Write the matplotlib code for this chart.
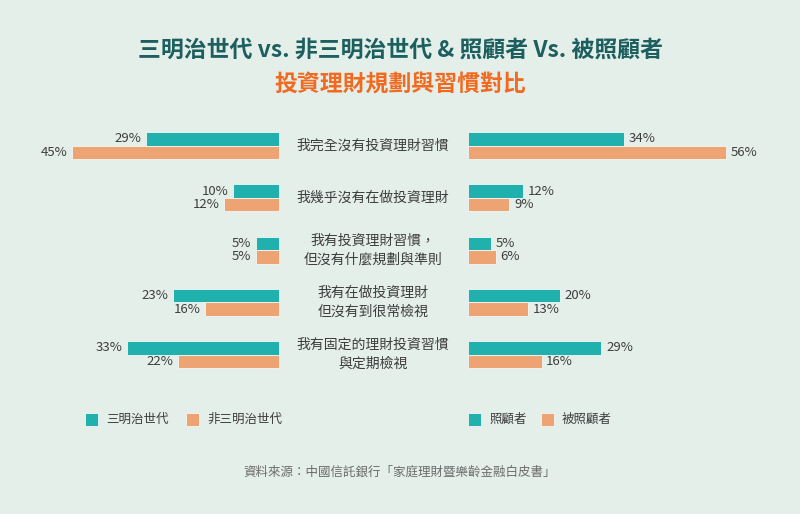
import matplotlib
matplotlib.use('Agg')
import matplotlib.pyplot as plt
from matplotlib.patches import Rectangle

plt.rcParams['font.family'] = ['Noto Sans CJK TC', 'DejaVu Sans']

# data
categories = ['我完全沒有投資理財習慣',
              '我幾乎沒有在做投資理財',
              '我有投資理財習慣，\n但沒有什麼規劃與準則',
              '我有在做投資理財\n但沒有到很常檢視',
              '我有固定的理財投資習慣\n與定期檢視']
sandwich = [29, 10, 5, 23, 33]
non_sandwich = [45, 12, 5, 16, 22]
caregiver = [34, 12, 5, 20, 29]
cared_for = [56, 9, 6, 13, 16]

teal = '#20b0ad'
orange = '#eea373'
bg = '#e4efea'
label_col = '#3d3d3d'

W, H = 800, 514
fig = plt.figure(figsize=(W / 100, H / 100), dpi=100, facecolor=bg)

# full-figure axes in pixel coordinates for text
ax = fig.add_axes([0, 0, 1, 1])
ax.set_xlim(0, W)
ax.set_ylim(H, 0)
ax.axis('off')

px_per_pct = 4.6
left_edge = 279
right_edge = 468
row_y = [145.5 + 52.3 * i for i in range(len(categories))]
bh = 13.5

axL = fig.add_axes([0, 0, left_edge / W, 1])
axL.set_xlim(left_edge / px_per_pct, 0)
axR = fig.add_axes([right_edge / W, 0, (W - right_edge) / W, 1])
axR.set_xlim(0, (W - right_edge) / px_per_pct)
for a in (axL, axR):
    a.set_ylim(H, 0)
    a.axis('off')
    a.patch.set_alpha(0)

top_y = [y - bh / 2 for y in row_y]
bot_y = [y + bh / 2 for y in row_y]

axL.barh(top_y, sandwich, height=bh, color=teal, edgecolor='#f2f8f6', linewidth=0.6)
axL.barh(bot_y, non_sandwich, height=bh, color=orange, edgecolor='#f2f8f6', linewidth=0.6)
axR.barh(top_y, caregiver, height=bh, color=teal, edgecolor='#f2f8f6', linewidth=0.6)
axR.barh(bot_y, cared_for, height=bh, color=orange, edgecolor='#f2f8f6', linewidth=0.6)

fs_pct = 9.5
for vals, ys in ((sandwich, top_y), (non_sandwich, bot_y)):
    for v, y in zip(vals, ys):
        axL.text(v + 1, y, f'{v}%', ha='right', va='center', fontsize=fs_pct, color=label_col)
for vals, ys in ((caregiver, top_y), (cared_for, bot_y)):
    for v, y in zip(vals, ys):
        axR.text(v + 1, y, f'{v}%', ha='left', va='center', fontsize=fs_pct, color=label_col)

for cat, y in zip(categories, row_y):
    ax.text(373, y, cat, ha='center', va='center', fontsize=10, color=label_col,
            linespacing=1.45)

# titles
ax.text(400, 50, '三明治世代 vs. 非三明治世代 & 照顧者 Vs. 被照顧者', ha='center', va='center',
        fontsize=16.5, fontweight='bold', color='#1c5f5e')
ax.text(400, 85, '投資理財規劃與習慣對比', ha='center', va='center',
        fontsize=16.5, fontweight='bold', color='#f26a1f')

# legends
legend_items = [(85, teal, '三明治世代'), (186, orange, '非三明治世代'),
                (468, teal, '照顧者'), (541, orange, '被照顧者')]
for x, c, t in legend_items:
    ax.add_patch(Rectangle((x, 413), 13, 13, facecolor=c, edgecolor='#f2f8f6', linewidth=0.6))
    ax.text(x + 21, 419.5, t, ha='left', va='center', fontsize=9, color=label_col)

ax.text(400, 472, '資料來源：中國信託銀行「家庭理財暨樂齡金融白皮書」', ha='center', va='center',
        fontsize=9, color='#6b6b6b')

fig.savefig('out.png', dpi=100, facecolor=bg)
